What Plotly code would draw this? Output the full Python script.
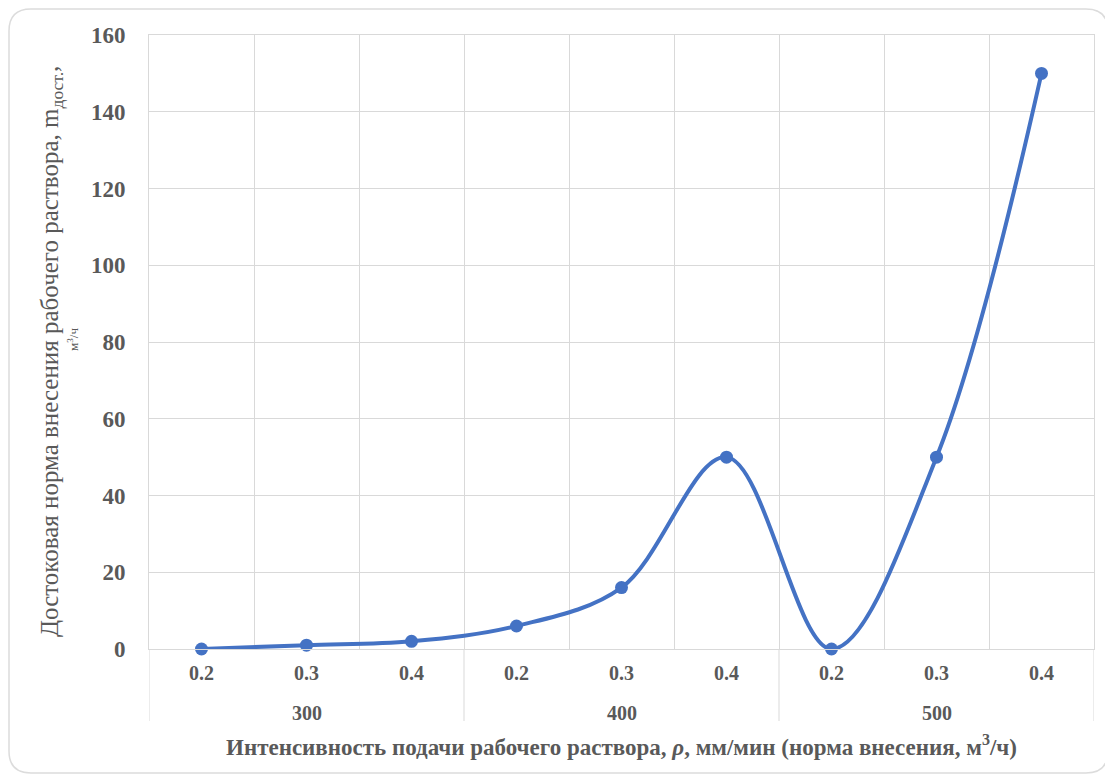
import plotly.graph_objects as go

# ---- data ----
group_labels = ["300", "400", "500"]
rate_labels = ["0.2", "0.3", "0.4"]
values = [0, 1, 2, 6, 16, 50, 0, 50, 150]
y_ticks = [0, 20, 40, 60, 80, 100, 120, 140, 160]

cat_keys = [f"{g}|{r}" for g in group_labels for r in rate_labels]
cat_text = [r for _ in group_labels for r in rate_labels]
group_mid_keys = [f"{g}|{rate_labels[len(rate_labels)//2]}" for g in group_labels]
n_sub = len(rate_labels)
divider_pos = [i * n_sub - 0.5 for i in range(len(group_labels) + 1)]

# ---- geometry (screen pixels; page body has an 8px margin) ----
OFF = 8
SW, SH = 1113, 778
W, H = SW - OFF, SH - OFF
L, R, T, B = 149, 1094, 35, 649
PW, PH = R - L, B - T

def px(xpix):
    return (xpix - L) / PW

def py(ypix):
    return (B - ypix) / PH

def rounded_rect(x0, y0, x1, y1, r):
    rx, ry = r / PW, r / PH
    X0, X1 = px(x0), px(x1)
    Y0, Y1 = py(y0), py(y1)
    return (f"M {X0+rx},{Y0} L {X1-rx},{Y0} Q {X1},{Y0} {X1},{Y0-ry} "
            f"L {X1},{Y1+ry} Q {X1},{Y1} {X1-rx},{Y1} "
            f"L {X0+rx},{Y1} Q {X0},{Y1} {X0},{Y1+ry} "
            f"L {X0},{Y0-ry} Q {X0},{Y0} {X0+rx},{Y0} Z")

GRID = "#d9d9d9"
TXT = "#595959"
BLUE = "#4472C4"
FONT = "Liberation Serif"

fig = go.Figure()
fig.add_trace(go.Scatter(
    x=cat_keys,
    y=values,
    mode="lines+markers",
    line=dict(color=BLUE, width=4, shape="spline", smoothing=1),
    marker=dict(color=BLUE, size=13),
    cliponaxis=False,
    showlegend=False,
))

shapes = [dict(
    type="path", xref="paper", yref="paper",
    path=rounded_rect(9, 9, 1108, 773, 22),
    line=dict(color="#dcdcdc", width=1.5),
    fillcolor="rgba(0,0,0,0)",
    layer="below",
)]
for d in divider_pos:
    shapes.append(dict(
        type="line", xref="x", yref="paper",
        x0=d, x1=d, y0=0, y1=py(721),
        line=dict(color=GRID, width=1), layer="below",
    ))

annotations = []
for key, g in zip(group_mid_keys, group_labels):
    annotations.append(dict(
        xref="x", yref="paper", x=key, y=py(713),
        text=g, showarrow=False, xanchor="center", yanchor="middle",
        font=dict(family=FONT, size=20, color=TXT, weight="bold"),
    ))
annotations.append(dict(
    xref="paper", yref="paper", x=0.5, y=py(745),
    text="Интенсивность подачи рабочего раствора, <i>ρ</i>, мм/мин (норма внесения, м<sup>3</sup>/ч)",
    showarrow=False, xanchor="center", yanchor="middle",
    font=dict(family=FONT, size=23, color=TXT, weight="bold"),
))
annotations.append(dict(
    xref="paper", yref="paper", x=px(51), y=py(352),
    text="Достоковая норма внесения рабочего раствора, m<sub>дост.</sub>,",
    textangle=-90, showarrow=False, xanchor="center", yanchor="middle",
    font=dict(family=FONT, size=25, color=TXT),
))
annotations.append(dict(
    xref="paper", yref="paper", x=px(73), y=py(340),
    text="м<sup>3</sup>/ч",
    textangle=-90, showarrow=False, xanchor="center", yanchor="middle",
    font=dict(family=FONT, size=13, color=TXT),
))

fig.update_layout(
    width=W, height=H,
    margin=dict(l=L - OFF, r=SW - R, t=T - OFF, b=SH - B, pad=0),
    paper_bgcolor="white",
    plot_bgcolor="white",
    font=dict(family=FONT, color=TXT),
    xaxis=dict(
        type="category",
        categoryorder="array", categoryarray=cat_keys,
        range=[-0.5, len(cat_keys) - 0.5],
        tickvals=cat_keys, ticktext=cat_text,
        tickson="boundaries",
        showgrid=True, gridcolor=GRID, gridwidth=1,
        showline=True, linecolor=GRID, linewidth=1, mirror=True,
        ticks="",
        ticklabelstandoff=6,
        tickfont=dict(family=FONT, size=20, color=TXT, weight="bold"),
    ),
    yaxis=dict(
        range=[0, 160],
        tickvals=y_ticks,
        showgrid=True, gridcolor=GRID, gridwidth=1,
        zeroline=False,
        showline=True, linecolor=GRID, linewidth=1, mirror=True,
        ticks="",
        ticklabelstandoff=18,
        tickfont=dict(family=FONT, size=23, color=TXT, weight="bold"),
    ),
    shapes=shapes,
    annotations=annotations,
)

fig.write_html("out.html")
